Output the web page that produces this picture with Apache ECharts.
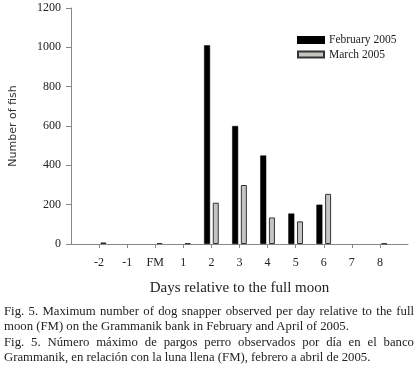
<!doctype html>
<html><head><meta charset="utf-8" />
<style>
html,body{margin:0;padding:0;width:418px;height:369px;background:#fff;overflow:hidden}
#app{position:absolute;left:0;top:0;width:418px;height:369px}
#cap{position:absolute;left:4px;top:304px;width:410px;font-family:"Liberation Serif",serif;font-size:12.75px;line-height:15px;color:#222}
#cap div{white-space:nowrap}
#cap .full{text-align:justify;text-align-last:justify}
#cap .para{margin-top:1px}
</style>
</head><body><div id="app"></div>
<div id="cap">
<div class="full">Fig. 5. Maximum number of dog snapper observed per day relative to the full</div>
<div>moon (FM) on the Grammanik bank in February and April of 2005.</div>
<div class="full para">Fig. 5. Número máximo de pargos perro observados por día en el banco</div>
<div>Grammanik, en relación con la luna llena (FM), febrero a abril de 2005.</div>
</div>
<script src="https://cdn.jsdelivr.net/npm/echarts@6/dist/echarts.min.js"></script>
<script>
// days relative to full moon; first and last are empty padding slots
const days = ['', '-2', '-1', 'FM', '1', '2', '3', '4', '5', '6', '7', '8', ''];
const feb2005 = [null, null, null, null, null, 1010, 600, 450, 155, 200, null, null, null];
const mar2005 = [null, 8, null, 5, 3, 210, 300, 135, 115, 255, null, 3, null];
const yTicks = [0, 200, 400, 600, 800, 1000, 1200];

const chart = echarts.init(document.getElementById('app'));
const serif = '"Liberation Serif", serif';
chart.setOption({
  animation: false,
  backgroundColor: '#fff',
  grid: { left: 68, right: 10, top: 8, bottom: 125, containLabel: false },
  legend: {
    left: 297, top: 34, padding: 0, orient: 'vertical', itemWidth: 26, itemHeight: 6, itemGap: 2.5,
    icon: 'rect',
    textStyle: { fontFamily: serif, fontSize: 11.5, color: '#222' },
    data: [{ name: 'February 2005' }, { name: 'March 2005' }]
  },
  xAxis: {
    type: 'category', data: days, boundaryGap: false,
    name: 'Days relative to the full moon', nameLocation: 'middle', nameGap: 37,
    nameTextStyle: { fontFamily: serif, fontSize: 15, color: '#222' },
    axisLine: { lineStyle: { color: '#888' } },
    axisTick: { length: 4, lineStyle: { color: '#888' }, interval: (i) => i > 0 && i < days.length - 1 },
    axisLabel: { fontFamily: serif, fontSize: 12, color: '#222', margin: 13, interval: 0 }
  },
  yAxis: {
    type: 'value', min: yTicks[0], max: yTicks[yTicks.length - 1], interval: 200,
    name: 'Number of fish', nameLocation: 'middle', nameGap: 52,
    nameTextStyle: { fontFamily: '"DejaVu Sans", sans-serif', fontSize: 11, color: '#333' },
    axisLine: { show: true, lineStyle: { color: '#888' } },
    axisTick: { show: true, length: 5, lineStyle: { color: '#888' } },
    axisLabel: { fontFamily: serif, fontSize: 12, color: '#222', margin: 10, formatter: (v) => String(v) },
    splitLine: { show: false }
  },
  series: [
    { name: 'February 2005', type: 'bar', data: feb2005, barWidth: 6, barGap: '45%',
      itemStyle: { color: '#000', borderColor: '#000', borderWidth: 0.5 } },
    { name: 'March 2005', type: 'bar', data: mar2005, barWidth: 6,
      itemStyle: { color: '#c4c4c0', borderColor: '#333', borderWidth: 1 } }
  ]
});
</script></body></html>
